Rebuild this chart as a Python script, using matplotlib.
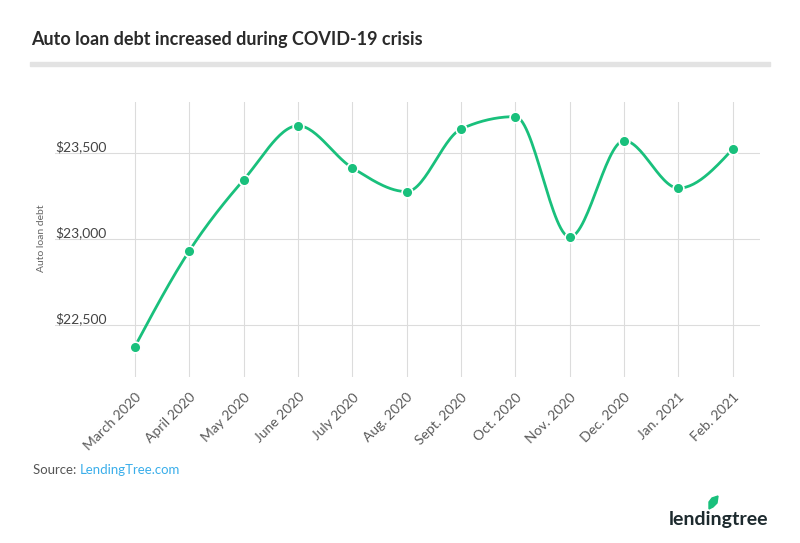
import numpy as np
import matplotlib
matplotlib.use("Agg")
import matplotlib.pyplot as plt
import matplotlib.transforms as mtransforms
from matplotlib.patches import Polygon


# ---------- DATA ----------
months = ["March 2020", "April 2020", "May 2020", "June 2020", "July 2020",
          "Aug. 2020", "Sept. 2020", "Oct. 2020", "Nov. 2020", "Dec. 2020",
          "Jan. 2021", "Feb. 2021"]
debt = [22376, 22932, 23345, 23660, 23415, 23277,
        23641, 23713, 23013, 23573, 23297, 23525]
ytick_vals = [22500, 23000, 23500]
ytick_labels = ["$22,500", "$23,000", "$23,500"]

GREEN = "#19c07c"
GRID = "#dcdcdc"
plt.rcParams["font.family"] = ["Lato", "DejaVu Sans"]


def monotone_x(x, y, n=30):
    """d3 curveMonotoneX style smoothing (Steffen slopes)"""
    x = np.asarray(x, float); y = np.asarray(y, float)
    h = np.diff(x); s = np.diff(y) / h
    m = np.zeros_like(y)
    for i in range(1, len(y)-1):
        p = (s[i-1]*h[i] + s[i]*h[i-1]) / (h[i-1] + h[i])
        m[i] = (np.sign(s[i-1]) + np.sign(s[i])) * min(abs(s[i-1]), abs(s[i]), 0.5*abs(p))
    m[0] = (3*s[0] - m[1]) / 2
    m[-1] = (3*s[-1] - m[-2]) / 2
    xs, ys = [], []
    for i in range(len(h)):
        t = np.linspace(0, 1, n, endpoint=(i == len(h)-1))
        h00 = 2*t**3 - 3*t**2 + 1; h10 = t**3 - 2*t**2 + t
        h01 = -2*t**3 + 3*t**2;    h11 = t**3 - t**2
        xs.append(x[i] + t*h[i])
        ys.append(h00*y[i] + h10*h[i]*m[i] + h01*y[i+1] + h11*h[i]*m[i+1])
    return np.concatenate(xs), np.concatenate(ys)


fig = plt.figure(figsize=(8, 5.43), dpi=100)
W, H = 800, 543
ax = fig.add_axes([55/W, 1-377/H, (760-55)/W, (377-102)/H])

xpos = np.arange(len(months))
cx, cy = monotone_x(xpos, debt)
ax.plot(cx, cy, color=GREEN, lw=2, zorder=3, solid_capstyle="round")
ax.scatter(xpos, debt, s=60, color=GREEN, edgecolor="white", linewidth=1.2, zorder=4)

ax.set_xlim(-1.47, 11.5)
ax.set_ylim(22199, 23798)

# grid
for xv in xpos:
    ax.axvline(xv, color=GRID, lw=0.8, zorder=1)
for yv in ytick_vals:
    ax.axhline(yv, color=GRID, lw=0.8, zorder=1)

for s in ax.spines.values():
    s.set_visible(False)
ax.set_yticks([])
ax.set_xticks(xpos)
ax.set_xticklabels(months, rotation=45, ha="right", rotation_mode="anchor",
                   fontsize=10, color="#5a5a5a")
ax.tick_params(axis="x", length=0, pad=10)

# y tick labels sit on top of their gridlines
trans = mtransforms.blended_transform_factory(ax.transAxes, ax.transData)
for yv, lab in zip(ytick_vals, ytick_labels):
    ax.text(0, yv, lab, transform=trans, ha="left", va="bottom",
            fontsize=10, color="#444444")

fig.text(42/W, 1-238/H, "Auto loan debt", rotation=90, ha="center", va="center",
         fontsize=7.5, color="#666666")

# ---------- HEADER ----------
fig.text(31/W, 1-40/H, "Auto loan debt increased during COVID-19 crisis",
         ha="left", va="center", fontsize=13, fontweight="bold", color="#2a2a2a")
fig.add_artist(plt.Rectangle((30/W, 1-66/H), 740/W, 4/H, color="#e3e3e3",
                             transform=fig.transFigure))

# ---------- FOOTER ----------
src = fig.text(33/W, 1-470/H, "Source: ", ha="left", va="center",
               fontsize=9.5, color="#555555")
fig.canvas.draw()
bb = src.get_window_extent()
fig.text(bb.x1/W, 1-470/H, "LendingTree.com", ha="left", va="center",
         fontsize=9.5, color="#3aaeea")

fig.text(669/W, 1-519/H, "lendingtree", ha="left", va="center",
         fontsize=14, fontweight="bold", color="#1d2a2e")
leaf = Polygon([(709/W, 1-509/H), (709/W, 1-502/H), (712/W, 1-498/H),
                (718/W, 1-496/H), (717/W, 1-503/H), (713/W, 1-507/H)],
               closed=True, color=GREEN, transform=fig.transFigure)
fig.add_artist(leaf)

fig.savefig("out.png", dpi=100, facecolor="white")
